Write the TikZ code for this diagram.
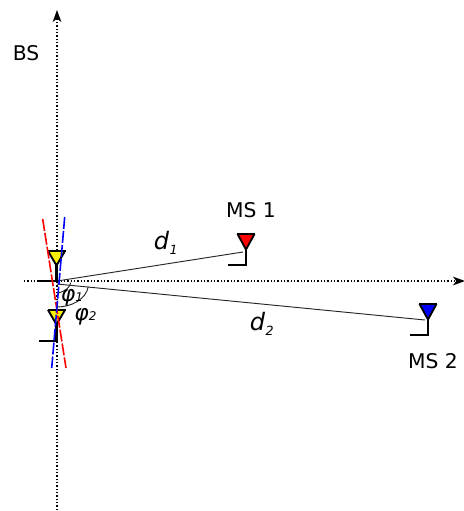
\documentclass[tikz,border=0pt]{standalone}
\usepackage{fontspec}
\setmainfont{DejaVu Sans}
\usetikzlibrary{arrows.meta}
\tikzset{
  ax/.style={line width=1pt,dash pattern=on 1pt off 1.5pt,-{Stealth[length=9pt,width=6.5pt,inset=2.5pt]}},
  link/.style={line width=0.7pt,draw=black!85},
  ant/.style={line width=1.9pt,line join=miter},
  antside/.style={line width=1.4pt,line join=miter},
  beam/.style={line width=1.2pt,dash pattern=on 9pt off 1.5pt},
  lab/.style={font=\fontsize{15.2}{16}\selectfont,inner sep=0pt},
  sym/.style={anchor=base west,inner sep=0pt},
}
\newcommand{\dlab}[2]{{\fontsize{18}{19}\selectfont\itshape #1}\hspace{0.5pt}\raisebox{-3.8pt}{\fontsize{9.5}{10}\selectfont\itshape #2}}
\newcommand{\plab}[2]{{\fontsize{16.5}{17}\selectfont\itshape #1}\raisebox{0pt}{\fontsize{9}{10}\selectfont\itshape #2}}
\newcommand{\antenna}[5]{% x y-top apex-y foot-y colour
  \fill[#5] (#1-8.5,#2) -- (#1+8.5,#2) -- (#1,#3) -- cycle;
  \draw[antside] (#1-8.5,#2) -- (#1,#3+0.5) -- (#1+8.5,#2);
  \draw[ant] (#1-9,#2) -- (#1+9,#2);
  \draw[ant] (#1,#3) -- (#1,#4) -- (#1-18,#4);
}
\begin{document}
\begin{tikzpicture}[x=0.75pt,y=-0.75pt]
\useasboundingbox (0,0) rectangle (464,511);
\coordinate (vs) at (57,510); \coordinate (ve) at (57,10);
\coordinate (hs) at (24,281); \coordinate (he) at (465,281);
\draw[ax] (vs) -- (ve);
\draw[ax] (hs) -- (he);
\coordinate (o1) at (57,281); \coordinate (o2) at (57,284);
\coordinate (m1) at (243,252); \coordinate (m2) at (425,320);
\draw[link] (o1) -- (m1);
\draw[link] (o2) -- (m2);
\antenna{56.5}{251}{265}{281}{yellow}
\antenna{56.5}{310}{324}{341}{yellow}
\antenna{246}{234}{249}{265}{red}
\antenna{428}{304}{319}{335}{blue}
\coordinate (rs) at (42.7,219); \coordinate (re) at (66,368);
\coordinate (bs) at (64.7,217); \coordinate (be) at (51.7,368);
\draw[beam,red] (rs) -- (re);
\draw[beam,blue] (bs) -- (be);
\draw[link] (70.7,282.7) .. controls (70,287) and (66,291) .. (58,293);
\draw[link] (88.3,286.7) .. controls (86,299) and (72,307) .. (56.7,307);
\node[lab] (bsl) at (26,53) {BS};
\node[lab] (ms1) at (251,210) {MS 1};
\node[lab] (ms2) at (433,361) {MS 2};
\node[sym] (d1) at (153.5,249) {\dlab{d}{1}};
\node[sym] (d2) at (249.5,330.5) {\dlab{d}{2}};
\node[sym] (p1) at (60.5,301) {\plab{φ}{1}};
\node[sym] (p2) at (74,320.5) {\plab{φ}{2}};
\end{tikzpicture}
\end{document}
